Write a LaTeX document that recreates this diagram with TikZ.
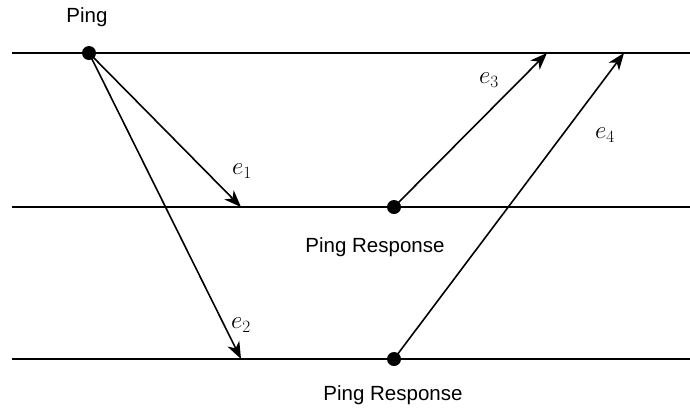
\documentclass[tikz,border=0pt]{standalone}
\usepackage{fontspec}
\setmainfont{Liberation Sans}
\usetikzlibrary{arrows.meta}
\begin{document}
\begin{tikzpicture}[x=1pt,y=-1pt,
  lane/.style={line width=1.8pt},
  msg/.style={line width=1.6pt,-{Stealth[length=17pt,width=13pt,inset=5pt]}},
  dot/.style={circle,fill=black,inner sep=0pt,minimum size=14pt},
  lbl/.style={font=\fontsize{20.5}{24}\selectfont},
  mlbl/.style={font=\fontsize{24}{28}\selectfont}]
\useasboundingbox (0,0) rectangle (690,408);
\coordinate (l1a) at (12,53);  \coordinate (l1b) at (690,53);
\coordinate (l2a) at (12,207); \coordinate (l2b) at (690,207);
\coordinate (l3a) at (12,359); \coordinate (l3b) at (690,359);
\draw[lane] (l1a) -- (l1b);
\draw[lane] (l2a) -- (l2b);
\draw[lane] (l3a) -- (l3b);
\node[dot] (ping) at (89,53) {};
\node[dot] (r1) at (394,207) {};
\node[dot] (r2) at (394,359) {};
\coordinate (t1) at (241,207);
\coordinate (t2) at (241,359);
\coordinate (t3) at (547,53);
\coordinate (t4) at (624,53);
\draw[msg] (ping.center) -- (t1);
\draw[msg] (ping.center) -- (t2);
\draw[msg] (r1.center) -- (t3);
\draw[msg] (r2.center) -- (t4);
\node[lbl] (pl) at (87,17) {Ping};
\node[lbl] (rl1) at (375,247) {Ping Response};
\node[lbl] (rl2) at (393,395) {Ping Response};
\node[mlbl] (e1) at (242,171) {$e_1$};
\node[mlbl] (e2) at (241,325) {$e_2$};
\node[mlbl] (e3) at (489,80) {$e_3$};
\node[mlbl] (e4) at (605,135) {$e_4$};
\end{tikzpicture}
\end{document}
